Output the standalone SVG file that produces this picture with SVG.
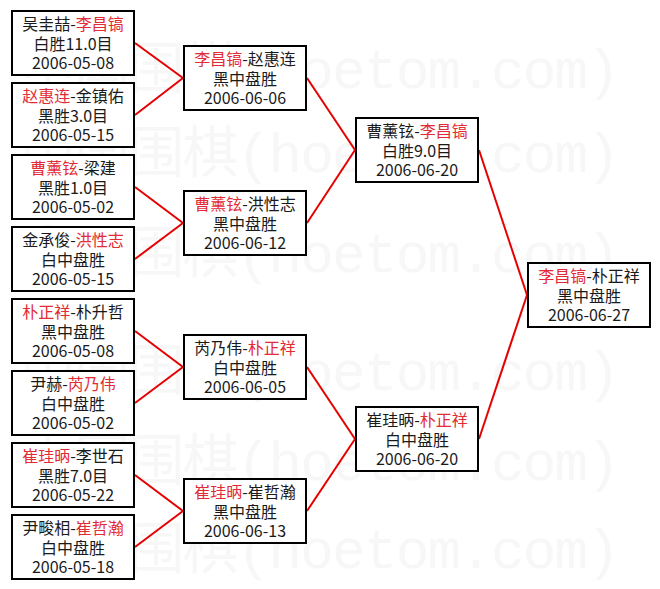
<svg xmlns="http://www.w3.org/2000/svg" width="660" height="589" viewBox="0 0 660 589">
<style>
.wm{font-family:"Liberation Mono","Noto Sans CJK SC",monospace;font-size:56px;fill:#f7f7f7}
.box{fill:#fff;stroke:#000;stroke-width:2}
.t{font-family:"Noto Sans CJK SC","Liberation Sans",sans-serif;font-size:16px;fill:#1a1a1a;text-anchor:middle}
.r{fill:#e32b36}
.c line{stroke:#e60000;stroke-width:2}
</style>
<rect width="660" height="589" fill="#fff"/>
<g id="watermark">
<text class="wm" x="20" y="88" textLength="600">中国围棋(hoetom.com)</text>
<text class="wm" x="20" y="172" textLength="600">中国围棋(hoetom.com)</text>
<text class="wm" x="20" y="272" textLength="600">中国围棋(hoetom.com)</text>
<text class="wm" x="20" y="390" textLength="600">中国围棋(hoetom.com)</text>
<text class="wm" x="20" y="480" textLength="600">中国围棋(hoetom.com)</text>
<text class="wm" x="20" y="568" textLength="600">中国围棋(hoetom.com)</text>
</g>
<g class="c" id="connectors">
<line x1="135" y1="43" x2="183" y2="78"/>
<line x1="135" y1="115" x2="183" y2="78"/>
<line x1="135" y1="187" x2="183" y2="223"/>
<line x1="135" y1="259" x2="183" y2="223"/>
<line x1="135" y1="331" x2="183" y2="367"/>
<line x1="135" y1="403" x2="183" y2="367"/>
<line x1="135" y1="475" x2="183" y2="511"/>
<line x1="135" y1="547" x2="183" y2="511"/>
<line x1="307" y1="78" x2="355" y2="150"/>
<line x1="307" y1="223" x2="355" y2="150"/>
<line x1="307" y1="367" x2="355" y2="439"/>
<line x1="307" y1="511" x2="355" y2="439"/>
<line x1="479" y1="150" x2="527" y2="295"/>
<line x1="479" y1="439" x2="527" y2="295"/>
</g>
<g id="m1">
<rect class="box" x="12" y="11" width="122" height="64"/>
<text class="t" x="73" y="30">吴圭喆-<tspan class="r">李昌镐</tspan></text>
<text class="t" x="73" y="50">白胜11.0目</text>
<text class="t" x="73" y="69">2006-05-08</text>
</g>
<g id="m2">
<rect class="box" x="12" y="83" width="122" height="64"/>
<text class="t" x="73" y="102"><tspan class="r">赵惠连</tspan>-金镇佑</text>
<text class="t" x="73" y="122">黑胜3.0目</text>
<text class="t" x="73" y="141">2006-05-15</text>
</g>
<g id="m3">
<rect class="box" x="12" y="155" width="122" height="64"/>
<text class="t" x="73" y="174"><tspan class="r">曹薰铉</tspan>-梁建</text>
<text class="t" x="73" y="194">黑胜1.0目</text>
<text class="t" x="73" y="213">2006-05-02</text>
</g>
<g id="m4">
<rect class="box" x="12" y="227" width="122" height="64"/>
<text class="t" x="73" y="246">金承俊-<tspan class="r">洪性志</tspan></text>
<text class="t" x="73" y="266">白中盘胜</text>
<text class="t" x="73" y="285">2006-05-15</text>
</g>
<g id="m5">
<rect class="box" x="12" y="299" width="122" height="64"/>
<text class="t" x="73" y="318"><tspan class="r">朴正祥</tspan>-朴升哲</text>
<text class="t" x="73" y="338">黑中盘胜</text>
<text class="t" x="73" y="357">2006-05-08</text>
</g>
<g id="m6">
<rect class="box" x="12" y="371" width="122" height="64"/>
<text class="t" x="73" y="390">尹赫-<tspan class="r">芮乃伟</tspan></text>
<text class="t" x="73" y="410">白中盘胜</text>
<text class="t" x="73" y="429">2006-05-02</text>
</g>
<g id="m7">
<rect class="box" x="12" y="443" width="122" height="64"/>
<text class="t" x="73" y="462"><tspan class="r">崔珪昞</tspan>-李世石</text>
<text class="t" x="73" y="482">黑胜7.0目</text>
<text class="t" x="73" y="501">2006-05-22</text>
</g>
<g id="m8">
<rect class="box" x="12" y="515" width="122" height="64"/>
<text class="t" x="73" y="534">尹畯相-<tspan class="r">崔哲瀚</tspan></text>
<text class="t" x="73" y="554">白中盘胜</text>
<text class="t" x="73" y="573">2006-05-18</text>
</g>
<g id="q1">
<rect class="box" x="184" y="46" width="122" height="64"/>
<text class="t" x="245" y="65"><tspan class="r">李昌镐</tspan>-赵惠连</text>
<text class="t" x="245" y="85">黑中盘胜</text>
<text class="t" x="245" y="104">2006-06-06</text>
</g>
<g id="q2">
<rect class="box" x="184" y="191" width="122" height="64"/>
<text class="t" x="245" y="210"><tspan class="r">曹薰铉</tspan>-洪性志</text>
<text class="t" x="245" y="230">黑中盘胜</text>
<text class="t" x="245" y="249">2006-06-12</text>
</g>
<g id="q3">
<rect class="box" x="184" y="335" width="122" height="64"/>
<text class="t" x="245" y="354">芮乃伟-<tspan class="r">朴正祥</tspan></text>
<text class="t" x="245" y="374">白中盘胜</text>
<text class="t" x="245" y="393">2006-06-05</text>
</g>
<g id="q4">
<rect class="box" x="184" y="479" width="122" height="64"/>
<text class="t" x="245" y="498"><tspan class="r">崔珪昞</tspan>-崔哲瀚</text>
<text class="t" x="245" y="518">黑中盘胜</text>
<text class="t" x="245" y="537">2006-06-13</text>
</g>
<g id="s1">
<rect class="box" x="356" y="118" width="122" height="64"/>
<text class="t" x="417" y="137">曹薰铉-<tspan class="r">李昌镐</tspan></text>
<text class="t" x="417" y="157">白胜9.0目</text>
<text class="t" x="417" y="176">2006-06-20</text>
</g>
<g id="s2">
<rect class="box" x="356" y="407" width="122" height="64"/>
<text class="t" x="417" y="426">崔珪昞-<tspan class="r">朴正祥</tspan></text>
<text class="t" x="417" y="446">白中盘胜</text>
<text class="t" x="417" y="465">2006-06-20</text>
</g>
<g id="final">
<rect class="box" x="528" y="263" width="122" height="64"/>
<text class="t" x="589" y="282"><tspan class="r">李昌镐</tspan>-朴正祥</text>
<text class="t" x="589" y="302">黑中盘胜</text>
<text class="t" x="589" y="321">2006-06-27</text>
</g>
</svg>
